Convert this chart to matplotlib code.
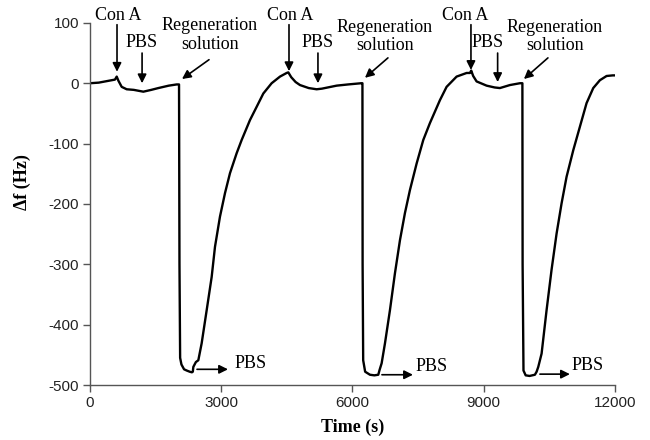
import matplotlib
matplotlib.use("Agg")
import matplotlib.pyplot as plt

plt.rcParams["axes.unicode_minus"] = False

# QCM frequency shift trace
time_s = [0, 200, 495, 570, 610, 650, 724, 838, 1000, 1219, 1400, 1562, 1800, 1981, 2035,
          2045, 2060, 2090, 2150, 2210, 2280, 2330, 2350, 2362, 2420, 2476, 2552, 2667,
          2781, 2857, 2971, 3086, 3200, 3352, 3467, 3657, 3810, 3962, 4152, 4343, 4495, 4533,
          4600, 4700, 4800, 5000, 5181, 5300, 5638, 5900, 6200, 6228,
          6232, 6245, 6290, 6400, 6500, 6590, 6620, 6667, 6743, 6857, 6971, 7086, 7200,
          7314, 7467, 7619, 7771, 8000, 8152, 8381, 8610, 8686, 8715, 8760, 8838, 9067,
          9250, 9371, 9600, 9829, 9885,
          9890, 9910, 9960, 10050, 10171, 10210, 10248, 10324, 10438, 10552, 10667,
          10781, 10895, 11048, 11200, 11352, 11505, 11657, 11810, 11950, 12000]
delta_f = [0, 1, 5, 6, 11, 4, -6, -10, -11, -14, -11, -8, -4, -2, -2,
           -300, -455, -466, -474, -476, -478, -479, -478, -470, -462, -459, -431, -376,
           -321, -271, -221, -182, -149, -116, -94, -61, -39, -17, 0, 11, 17, 18,
           10, 2, -3, -8, -10, -9, -4, -2, 0, 0,
           -300, -459, -478, -483, -484, -483, -475, -464, -431, -376, -315, -260, -215,
           -177, -133, -94, -66, -28, -6, 11, 17, 17, 21, 12, 3, -4,
           -7, -8, -3, 0, 0,
           -300, -476, -484, -485, -483, -478, -470, -448, -376, -309, -249,
           -199, -155, -111, -72, -33, -8, 5, 12, 13, 13]

# annotations: (label, text x, text y, arrow start x, arrow start y, tip x, tip y)
top_notes = [
    ("Con A", 640, 113, 617, 97, 617, 19),
    ("PBS", 1190, 67, 1190, 50, 1190, 0),
    ("Regeneration\nsolution", 2743, 80, 2720, 39, 2103, 7),
    ("Con A", 4571, 113, 4549, 97, 4549, 20),
    ("PBS", 5211, 67, 5211, 50, 5211, 0),
    ("Regeneration\nsolution", 6743, 77, 6811, 42, 6286, 9),
    ("Con A", 8571, 113, 8709, 97, 8709, 22),
    ("PBS", 9097, 67, 9319, 50, 9319, 2),
    ("Regeneration\nsolution", 10629, 77, 10469, 42, 9920, 7),
]
# bottom PBS labels: (text left x, text y, arrow from x, arrow to x, arrow y)
bottom_notes = [
    (3314, -464, 2446, 3154, -474),
    (7451, -470, 6674, 7383, -483),
    (11010, -468, 10286, 10971, -482),
]

serif = "Liberation Serif"
sans = "Liberation Sans"
axis_col = "#555555"

fig = plt.figure(figsize=(6.5, 4.4), dpi=100)
ax = fig.add_axes([0.1385, 0.125, 0.8075, 0.823])

ax.plot(time_s, delta_f, color="black", linewidth=1.7, solid_joinstyle="round")

ax.set_xlim(0, 12000)
ax.set_ylim(-500, 100)
ax.set_xticks([0, 3000, 6000, 9000, 12000])
ax.set_yticks([-500, -400, -300, -200, -100, 0, 100])

for side in ["top", "right"]:
    ax.spines[side].set_visible(False)
for side in ["left", "bottom"]:
    ax.spines[side].set_color(axis_col)
    ax.spines[side].set_linewidth(1.0)

ax.tick_params(direction="out", length=5, width=1, color=axis_col,
               labelsize=11, labelcolor="#222222", pad=3)
for lab in ax.get_xticklabels() + ax.get_yticklabels():
    lab.set_fontfamily(sans)

ax.set_xlabel("Time (s)", fontfamily=serif, fontweight="bold", fontsize=13, labelpad=6)
ax.set_ylabel("\u0394f (Hz)", fontfamily=serif, fontweight="bold", fontsize=13)
ax.yaxis.set_label_coords(-0.112, 0.56)

arrow_style = dict(arrowstyle="-|>", color="black", lw=1.2, mutation_scale=13,
                   shrinkA=0, shrinkB=0)

for label, tx, ty, sx, sy, hx, hy in top_notes:
    ax.text(tx, ty, label, ha="center", va="center", fontfamily=serif, fontsize=13,
            linespacing=1.1, clip_on=False)
    ax.annotate("", xy=(hx, hy), xytext=(sx, sy), arrowprops=arrow_style,
                annotation_clip=False)

for tx, ty, ax0, ax1, ay in bottom_notes:
    ax.text(tx, ty, "PBS", ha="left", va="center", fontfamily=serif, fontsize=13)
    ax.annotate("", xy=(ax1, ay), xytext=(ax0, ay), arrowprops=arrow_style)

fig.savefig("out.png", dpi=100)
